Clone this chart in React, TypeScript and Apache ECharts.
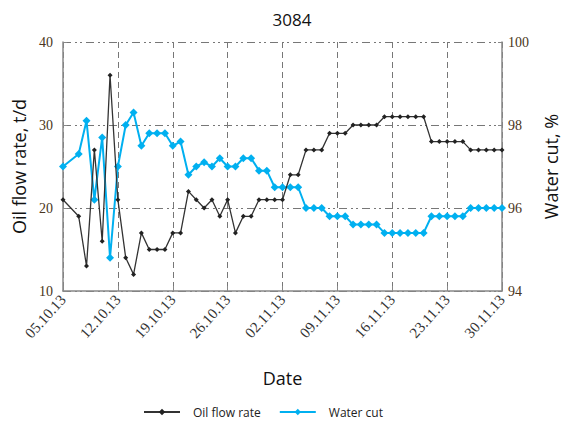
import React, { useEffect, useRef } from "react";
import * as echarts from "echarts";

const tickLabels = ["05.10.13", "12.10.13", "19.10.13", "26.10.13", "02.11.13", "09.11.13", "16.11.13", "23.11.13", "30.11.13"];

// day offsets from 05.10.13
const days = [0, 2, 3, 4, 5, 6, 7, 8, 9, 10, 11, 12, 13, 14, 15, 16, 17, 18, 19, 20, 21, 22, 23, 24, 25, 26, 27, 28, 29, 30,
  31, 32, 33, 34, 35, 36, 37, 38, 39, 40, 41, 42, 43, 44, 45, 46, 47, 48, 49, 50, 51, 52, 53, 54, 55, 56];

const oilRate = [21, 19, 13, 27, 16, 36, 21, 14, 12, 17, 15, 15, 15, 17, 17, 22, 21, 20, 21, 19, 21, 17, 19, 19, 21, 21, 21, 21, 24, 24,
  27, 27, 27, 29, 29, 29, 30, 30, 30, 30, 31, 31, 31, 31, 31, 31, 28, 28, 28, 28, 28, 27, 27, 27, 27, 27];

const waterCut = [97.0, 97.3, 98.1, 96.2, 97.7, 94.8, 97.0, 98.0, 98.3, 97.5, 97.8, 97.8, 97.8, 97.5, 97.6, 96.8, 97.0, 97.1, 97.0, 97.2,
  97.0, 97.0, 97.2, 97.2, 96.9, 96.9, 96.5, 96.5, 96.5, 96.5, 96.0, 96.0, 96.0, 95.8, 95.8, 95.8, 95.6, 95.6, 95.6, 95.6,
  95.4, 95.4, 95.4, 95.4, 95.4, 95.4, 95.8, 95.8, 95.8, 95.8, 95.8, 96.0, 96.0, 96.0, 96.0, 96.0];

export default function App() {
  const ref = useRef<HTMLDivElement>(null);
  useEffect(() => {
    if (!ref.current) return;
    const chart = echarts.init(ref.current, undefined, { renderer: "svg" });
    const serif = "'Liberation Serif', 'Times New Roman', serif";
    const sans = "'Open Sans', sans-serif";
    chart.setOption({
      animation: false,
      backgroundColor: "#ffffff",
      title: {
        text: "3084",
        left: 287,
        textAlign: "center",
        top: 6,
        textStyle: { fontFamily: sans, fontSize: 17, fontWeight: "normal", color: "#111" },
      },
      grid: { left: 63, right: 57, top: 42, bottom: 130 },
      legend: {
        left: 138,
        top: 401,
        itemWidth: 36,
        itemHeight: 8,
        itemGap: 18,
        textStyle: { fontFamily: sans, fontSize: 12, color: "#222", padding: [0, 0, 0, 8] },
        data: ["Oil flow rate", "Water cut"],
      },
      xAxis: {
        type: "value",
        min: 0,
        max: 56,
        interval: 7,
        name: "Date",
        nameLocation: "middle",
        nameGap: 78,
        nameTextStyle: { fontFamily: sans, fontSize: 18, color: "#111" },
        axisLine: { lineStyle: { color: "#888", width: 1.5 } },
        axisTick: { inside: true, length: 5, lineStyle: { color: "#888" } },
        axisLabel: {
          rotate: 48,
          fontFamily: serif,
          fontSize: 15,
          color: "#333",
          margin: 6,
          formatter: (v: number) => tickLabels[Math.round(v / 7)] ?? "",
        },
        splitLine: { show: true, lineStyle: { color: "#777", type: [6, 4], width: 1 } },
      },
      yAxis: [
        {
          type: "value",
          min: 10,
          max: 40,
          interval: 10,
          name: "Oil flow rate, t/d",
          nameLocation: "middle",
          nameGap: 35,
          nameRotate: 90,
          nameTextStyle: { fontFamily: sans, fontSize: 18, color: "#111" },
          axisLine: { show: true, lineStyle: { color: "#888", width: 1.5 } },
          axisTick: { show: true, inside: true, length: 4, lineStyle: { color: "#888" } },
          axisLabel: { fontFamily: serif, fontSize: 14, color: "#4a3520", margin: 10 },
          splitLine: { show: true, lineStyle: { color: "#777", type: [8, 4, 2, 3, 2, 4], width: 1 } },
        },
        {
          type: "value",
          min: 94,
          max: 100,
          interval: 2,
          name: "Water cut, %",
          nameLocation: "middle",
          nameGap: 40,
          nameRotate: 90,
          nameTextStyle: { fontFamily: sans, fontSize: 18, color: "#111" },
          axisLine: { show: true, lineStyle: { color: "#888", width: 1.5 } },
          axisTick: { show: true, inside: true, length: 4, lineStyle: { color: "#888" } },
          axisLabel: { fontFamily: serif, fontSize: 14, color: "#4a3520", margin: 6 },
          splitLine: { show: false },
        },
      ],
      series: [
        {
          name: "Oil flow rate",
          type: "line",
          yAxisIndex: 0,
          data: days.map((d, i) => [d, oilRate[i]]),
          color: "#333333",
          lineStyle: { width: 1.3, color: "#333333" },
          symbol: "diamond",
          symbolSize: 5,
          itemStyle: { color: "#222222" },
          z: 3,
        },
        {
          name: "Water cut",
          type: "line",
          yAxisIndex: 1,
          data: days.map((d, i) => [d, waterCut[i]]),
          color: "#00B0F0",
          lineStyle: { width: 2, color: "#00B0F0" },
          symbol: "diamond",
          symbolSize: 8,
          itemStyle: { color: "#00B0F0" },
          z: 2,
        },
      ],
    });
    return () => chart.dispose();
  }, []);
  return <div ref={ref} style={{ width: 568, height: 421, position: "absolute", left: 0, top: 0 }} />;
}
